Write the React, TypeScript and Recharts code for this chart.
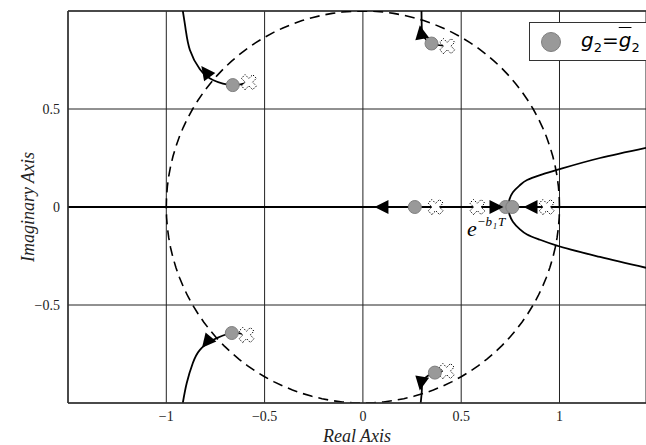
import { ComposedChart, Line, Scatter, XAxis, YAxis, CartesianGrid, ReferenceLine } from 'recharts';

// root locus branches (pole -> closed-loop point -> onward)
const upperLeftLocus = [
  { x: -0.58, y: 0.637 }, { x: -0.662, y: 0.622 }, { x: -0.763, y: 0.648 }, { x: -0.83, y: 0.704 },
  { x: -0.88, y: 0.801 }, { x: -0.901, y: 0.903 }, { x: -0.916, y: 1.0 },
];
const lowerLeftLocus = [
  { x: -0.592, y: -0.653 }, { x: -0.667, y: -0.643 }, { x: -0.763, y: -0.679 }, { x: -0.83, y: -0.73 },
  { x: -0.865, y: -0.796 }, { x: -0.896, y: -0.898 }, { x: -0.916, y: -1.0 },
];
const topLocus = [
  { x: 0.429, y: 0.821 }, { x: 0.349, y: 0.834 }, { x: 0.31, y: 0.867 }, { x: 0.3, y: 0.903 }, { x: 0.298, y: 1.0 },
];
const bottomLocus = [
  { x: 0.426, y: -0.837 }, { x: 0.366, y: -0.845 }, { x: 0.31, y: -0.88 }, { x: 0.3, y: -0.93 }, { x: 0.294, y: -1.0 },
];
const rightBranch = [
  { x: 1.44, y: -0.31 }, { x: 1.206, y: -0.255 }, { x: 0.987, y: -0.197 }, { x: 0.901, y: -0.167 },
  { x: 0.835, y: -0.14 }, { x: 0.795, y: -0.11 }, { x: 0.763, y: -0.075 }, { x: 0.746, y: -0.04 },
  { x: 0.739, y: 0 },
  { x: 0.746, y: 0.04 }, { x: 0.763, y: 0.075 }, { x: 0.795, y: 0.108 }, { x: 0.835, y: 0.138 },
  { x: 0.901, y: 0.163 }, { x: 0.987, y: 0.189 }, { x: 1.206, y: 0.25 }, { x: 1.44, y: 0.302 },
];
const realAxisLocus = [{ x: -1.5, y: 0 }, { x: 1.44, y: 0 }];

const openLoopPoles = [
  { x: -0.58, y: 0.637 }, { x: -0.592, y: -0.653 }, { x: 0.429, y: 0.821 }, { x: 0.426, y: -0.837 },
  { x: 0.37, y: 0 }, { x: 0.582, y: 0 }, { x: 0.935, y: 0 },
];
const closedLoopPoles = [
  { x: -0.662, y: 0.622 }, { x: -0.667, y: -0.643 }, { x: 0.349, y: 0.834 }, { x: 0.366, y: -0.845 },
  { x: 0.264, y: 0 }, { x: 0.726, y: 0 }, { x: 0.76, y: 0 },
];
// arrow heads: position and direction (screen degrees, 0 = right)
const arrows = [
  { x: -0.799, y: 0.689, dir: -127 }, { x: -0.794, y: -0.689, dir: 130 },
  { x: 0.296, y: 0.89, dir: -100 }, { x: 0.296, y: -0.898, dir: 100 },
  { x: 0.097, y: 0, dir: 180 }, { x: 0.677, y: 0, dir: 0 }, { x: 0.855, y: 0, dir: 180 },
];
const annotation = [{ x: 0.529, y: -0.148 }];

const xTicks = [-1, -0.5, 0, 0.5, 1];
const yTicks = [-0.5, 0, 0.5];

// unit circle (stability boundary)
const unitCircle = Array.from({ length: 121 }, (_, i) => {
  const a = (i / 120) * 2 * Math.PI;
  return { x: Math.cos(a), y: Math.sin(a) };
});

const fmt = (v: number) => (v < 0 ? '\u2212' + Math.abs(v) : String(v));
const SERIF = '"Liberation Serif", serif';

const Cross = ({ cx, cy }: any) => {
  const a = 8, b = 2.6;
  const pts = [[b, a], [b, b], [a, b], [a, -b], [b, -b], [b, -a], [-b, -a], [-b, -b], [-a, -b], [-a, b], [-b, b], [-b, a]];
  const c = Math.SQRT1_2;
  const d = pts.map(([px, py]) => `${cx + (px - py) * c},${cy + (px + py) * c}`).join(' ');
  return <polygon points={d} fill="#fff" stroke="#000" strokeWidth={1} strokeDasharray="1.5 1.5" />;
};

const Dot = ({ cx, cy }: any) => <circle cx={cx} cy={cy} r={6.5} fill="#999" stroke="#7f7f7f" strokeWidth={1} />;

const Arrow = ({ cx, cy, payload }: any) => (
  <polygon points="7.5,0 -6.5,-7 -6.5,7" fill="#000" transform={`translate(${cx},${cy}) rotate(${payload.dir})`} />
);

const Note = ({ cx, cy }: any) => (
  <text x={cx} y={cy} fontFamily={SERIF} fontStyle="italic" fill="#000">
    <tspan fontSize={22}>e</tspan>
    <tspan fontSize={13} dy={-10}>{'\u2212'}b</tspan>
    <tspan fontSize={8} dy={3} dx={1}>1</tspan>
    <tspan fontSize={13} dy={-3} dx={1}>T</tspan>
  </text>
);

export default function App() {
  return (
    <div style={{ position: 'absolute', left: 0, top: 0, width: 646, height: 445, background: '#fff' }}>
      <ComposedChart width={646} height={445} margin={{ top: 11, right: 0, bottom: 0, left: 0 }}>
        <CartesianGrid stroke="#222" strokeWidth={1} />
        <XAxis type="number" dataKey="x" domain={[-1.5, 1.44]} allowDataOverflow ticks={xTicks} tickFormatter={fmt}
          height={42} tickLine={false} axisLine={{ stroke: '#333', strokeWidth: 1.5 }}
          tick={{ fill: '#222', fontSize: 14, fontFamily: SERIF }}
          label={{ value: 'Real Axis', position: 'insideBottom', offset: 3, fill: '#222', fontSize: 18, fontFamily: SERIF, fontStyle: 'italic' }} />
        <YAxis type="number" dataKey="y" domain={[-1, 1]} allowDataOverflow ticks={yTicks} tickFormatter={fmt}
          width={68} tickLine={false} axisLine={{ stroke: '#333', strokeWidth: 1.5 }}
          tick={{ fill: '#222', fontSize: 14, fontFamily: SERIF }}
          label={{ value: 'Imaginary Axis', angle: -90, position: 'insideLeft', offset: 28, fill: '#222', fontSize: 18, fontFamily: SERIF, fontStyle: 'italic', style: { textAnchor: 'middle' } }} />
        <ReferenceLine y={1} stroke="#333" strokeWidth={1.5} />
        <Line data={unitCircle} dataKey="y" type="linear" stroke="#000" strokeWidth={1.6} strokeDasharray="10 6" dot={false} isAnimationActive={false} />
        <Line data={realAxisLocus} dataKey="y" type="linear" stroke="#000" strokeWidth={1.8} dot={false} isAnimationActive={false} />
        <Line data={upperLeftLocus} dataKey="y" type="natural" stroke="#000" strokeWidth={1.8} dot={false} isAnimationActive={false} />
        <Line data={lowerLeftLocus} dataKey="y" type="natural" stroke="#000" strokeWidth={1.8} dot={false} isAnimationActive={false} />
        <Line data={topLocus} dataKey="y" type="natural" stroke="#000" strokeWidth={1.8} dot={false} isAnimationActive={false} />
        <Line data={bottomLocus} dataKey="y" type="natural" stroke="#000" strokeWidth={1.8} dot={false} isAnimationActive={false} />
        <Line data={rightBranch} dataKey="y" type="monotoneY" stroke="#000" strokeWidth={1.8} dot={false} isAnimationActive={false} />
        <Scatter data={openLoopPoles} shape={Cross} isAnimationActive={false} />
        <Scatter data={closedLoopPoles} shape={Dot} isAnimationActive={false} />
        <Scatter data={arrows} shape={Arrow} isAnimationActive={false} />
        <Scatter data={annotation} shape={Note} isAnimationActive={false} />
      </ComposedChart>
      <div style={{
        position: 'absolute', left: 529, top: 22, width: 130, height: 39, boxSizing: 'border-box',
        border: '1px solid #333', background: '#fff', display: 'flex', alignItems: 'center',
      }}>
        <span style={{ width: 20, height: 20, borderRadius: 10, background: '#999', border: '1px solid #7f7f7f', boxSizing: 'border-box', marginLeft: 11, marginRight: 20 }} />
        <span style={{ fontFamily: '"DejaVu Sans", sans-serif', fontSize: 20, color: '#000', lineHeight: 1 }}>
          <i>g</i><sub style={{ fontSize: 13 }}>2</sub>=<i style={{ textDecoration: 'overline', textDecorationThickness: 1 }}>g</i><sub style={{ fontSize: 13 }}>2</sub>
        </span>
      </div>
    </div>
  );
}
